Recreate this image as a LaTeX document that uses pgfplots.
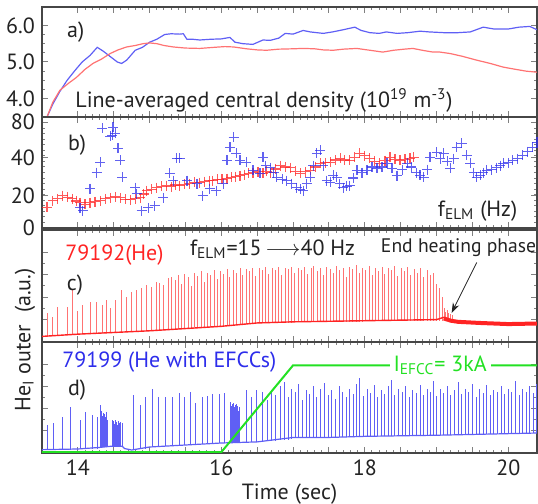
\documentclass[border=0pt]{standalone}
\usepackage{fontspec}
\setmainfont{PT Sans}
\usepackage{pgfplots}
\pgfplotsset{compat=1.18}
\usepackage{pgfplotstable}
\usetikzlibrary{arrows.meta}
\definecolor{cblue}{RGB}{45,45,235}
\definecolor{cbluel}{RGB}{95,95,245}
\definecolor{cred}{RGB}{255,35,35}
\definecolor{credl}{RGB}{255,115,115}
\definecolor{cgreen}{RGB}{35,225,35}
\definecolor{cax}{RGB}{70,70,70}
\definecolor{ctxt}{RGB}{35,35,35}
\newcommand{\fs}{\fontsize{11}{12}\selectfont}

% panel a: line-averaged density
\pgfplotstableread{
t v
13.57 3.50
13.65 3.85
13.75 4.20
13.85 4.50
13.96 4.77
14.06 5.00
14.17 5.18
14.27 5.40
14.35 5.30
14.45 5.15
14.55 5.00
14.61 4.96
14.68 5.05
14.80 5.32
14.90 5.40
15.00 5.54
15.10 5.62
15.21 5.75
15.30 5.77
15.42 5.76
15.47 5.77
15.52 5.62
15.60 5.62
15.70 5.60
15.85 5.62
16.00 5.63
16.12 5.67
16.19 5.54
16.30 5.50
16.44 5.48
16.58 5.60
16.68 5.59
16.80 5.65
16.89 5.78
17.00 5.76
17.14 5.86
17.24 5.82
17.42 5.78
17.55 5.82
17.70 5.88
17.86 5.95
17.95 5.86
18.07 5.80
18.20 5.78
18.30 5.82
18.45 5.78
18.60 5.80
18.77 5.84
18.90 5.82
19.10 5.80
19.30 5.80
19.47 5.82
19.65 5.95
19.80 5.90
20.00 5.90
20.15 5.95
20.30 5.97
20.40 5.88
}\densblue
\pgfplotstableread{
t v
13.57 3.50
13.65 3.90
13.75 4.23
13.87 4.42
13.98 4.58
14.10 4.80
14.21 4.96
14.33 5.08
14.45 5.23
14.56 5.33
14.68 5.41
14.80 5.45
14.91 5.50
15.00 5.52
15.10 5.50
15.20 5.45
15.33 5.41
15.50 5.38
15.70 5.37
15.90 5.40
16.05 5.42
16.17 5.41
16.35 5.36
16.50 5.33
16.63 5.32
16.80 5.35
17.00 5.36
17.14 5.37
17.30 5.36
17.42 5.33
17.56 5.32
17.70 5.35
17.89 5.37
18.07 5.32
18.25 5.27
18.40 5.32
18.55 5.35
18.67 5.37
18.80 5.32
18.95 5.27
19.05 5.27
19.19 5.23
19.35 5.16
19.56 5.05
19.75 4.96
19.93 4.86
20.10 4.80
20.25 4.75
20.41 4.72
}\densred

% panel b: ELM frequency
\pgfplotstableread{
t v
13.57 14.8
13.65 19.6
13.72 21.0
13.79 23.3
13.86 22.0
13.92 21.0
13.98 19.5
14.03 18.2
14.10 17.0
14.17 18.2
14.24 19.0
14.31 19.6
14.38 21.0
14.45 21.8
14.52 22.5
14.59 21.8
14.66 20.8
14.73 20.4
14.80 21.0
14.87 21.8
14.92 24.5
14.96 26.9
15.03 28.0
15.10 29.1
15.17 30.0
15.24 30.5
15.30 29.8
15.36 31.0
15.42 30.5
15.49 31.5
15.56 32.0
15.63 33.0
15.70 32.7
15.77 33.5
15.83 34.0
15.88 34.2
15.95 35.0
16.01 35.2
16.08 35.6
16.14 36.5
16.20 37.0
16.26 37.8
16.32 38.5
16.38 39.5
16.44 40.0
16.51 40.5
16.58 39.3
16.63 41.0
16.68 40.0
16.75 42.5
16.82 45.0
16.89 44.0
16.96 43.6
17.03 41.0
17.10 39.3
17.17 40.5
17.24 41.5
17.31 44.0
17.38 46.5
17.45 47.0
17.52 47.3
17.59 49.0
17.66 50.2
17.72 49.0
17.79 48.7
17.86 51.0
17.93 53.8
18.00 52.0
18.07 50.2
18.14 48.0
18.21 46.5
18.28 48.5
18.35 50.9
18.42 49.5
18.49 48.7
18.56 49.5
18.63 50.2
18.68 50.9
}\felmred
\pgfplotstableread{
t v
14.03 14.5
14.07 12.4
14.17 28.4
14.26 40.0
14.31 47.3
14.34 72.0
14.45 66.0
14.48 66.9
14.49 72.7
14.52 68.4
14.56 57.4
14.59 48.7
14.62 36.4
14.80 29.1
14.82 24.7
14.89 12.4
14.98 14.5
15.07 16.0
15.19 21.8
15.28 39.3
15.33 34.2
15.38 50.2
15.42 50.2
15.52 34.2
15.66 32.0
15.74 23.3
15.84 28.4
15.93 26.9
16.03 32.0
16.08 48.7
16.12 58.2
16.17 65.4
16.21 53.8
16.26 48.7
16.35 47.3
16.44 41.5
16.54 39.3
16.58 50.9
16.62 45.0
16.68 43.6
16.73 40.0
16.77 36.4
16.85 35.0
16.91 34.2
16.98 32.0
17.05 29.1
17.10 28.0
17.14 26.9
17.19 32.0
17.24 36.4
17.28 45.0
17.33 53.8
17.38 56.0
17.42 45.0
17.47 34.2
17.52 33.0
17.56 38.0
17.61 36.4
17.65 32.0
17.70 29.1
17.75 30.0
17.79 30.5
17.84 36.0
17.89 41.5
17.96 40.0
18.03 41.5
18.10 44.0
18.17 42.9
18.24 44.0
18.31 46.5
18.38 43.0
18.45 37.8
18.52 42.0
18.59 46.5
18.65 44.0
18.72 40.0
18.77 38.0
18.82 36.4
18.87 42.0
18.91 50.9
19.00 54.5
19.05 50.0
19.10 53.8
19.15 48.0
19.19 42.9
19.24 50.0
19.28 58.2
19.35 61.0
19.42 52.3
19.47 46.5
19.52 40.0
19.56 36.4
19.61 38.0
19.65 40.0
19.70 41.5
19.77 42.0
19.84 43.6
19.89 45.0
19.93 46.5
20.00 47.0
20.06 48.7
20.13 50.0
20.20 52.3
20.27 55.0
20.34 58.2
20.40 61.8
}\felmblue

% panel c: He I outer, shot 79192 (spikes: time, base, peak)
\pgfplotstableread{
t b p
13.57 .05 .26
13.64 .05 .22
13.72 .06 .31
13.85 .06 .31
13.93 .07 .46
14.00 .07 .28
14.06 .07 .33
14.17 .075 .36
14.26 .08 .36
14.34 .08 .33
14.40 .08 .375
14.46 .085 .30
14.52 .085 .375
14.61 .09 .46
14.68 .09 .40
14.75 .09 .45
14.82 .095 .46
14.89 .095 .48
14.96 .10 .51
15.03 .10 .49
15.10 .10 .54
15.14 .10 .53
15.19 .11 .51
15.26 .11 .57
15.31 .11 .58
15.36 .12 .55
15.40 .12 .60
15.45 .12 .52
15.49 .12 .61
15.54 .12 .58
15.58 .12 .50
15.63 .13 .62
15.67 .13 .59
15.72 .13 .63
15.76 .13 .54
15.81 .13 .62
15.85 .13 .60
15.90 .14 .64
15.94 .14 .56
15.99 .14 .63
16.03 .14 .61
16.08 .14 .65
16.12 .14 .58
16.17 .14 .64
16.21 .16 .62
16.26 .16 .66
16.30 .16 .60
16.35 .16 .65
16.39 .16 .63
16.44 .16 .66
16.48 .16 .59
16.53 .17 .66
16.57 .17 .64
16.62 .17 .67
16.66 .17 .61
16.71 .17 .66
16.75 .17 .64
16.80 .17 .67
16.84 .17 .60
16.89 .17 .66
16.93 .17 .65
16.98 .17 .67
17.02 .18 .62
17.07 .18 .66
17.11 .18 .64
17.16 .18 .67
17.20 .18 .61
17.25 .18 .66
17.29 .18 .68
17.34 .18 .63
17.38 .18 .66
17.43 .18 .60
17.47 .18 .67
17.52 .18 .65
17.56 .18 .62
17.61 .18 .68
17.65 .18 .64
17.70 .18 .66
17.74 .18 .58
17.79 .18 .67
17.83 .18 .65
17.88 .18 .69
17.92 .18 .62
17.97 .18 .66
18.01 .19 .64
18.06 .19 .68
18.10 .19 .60
18.15 .19 .66
18.19 .19 .63
18.24 .19 .67
18.28 .19 .61
18.33 .19 .66
18.37 .19 .64
18.42 .19 .68
18.46 .19 .59
18.51 .19 .66
18.55 .19 .63
18.60 .19 .67
18.64 .19 .60
18.69 .19 .65
18.73 .19 .62
18.78 .19 .66
18.82 .19 .58
18.87 .19 .64
18.91 .19 .60
18.96 .19 .62
19.00 .19 .52
19.04 .19 .48
19.08 .19 .40
19.11 .20 .30
19.13 .20 .27
19.15 .20 .29
19.17 .20 .26
19.19 .19 .25
19.22 .19 .24
}\spikesc
\pgfplotstableread{
t v
13.50 0.05
14.00 0.07
14.50 0.085
15.00 0.10
15.50 0.12
16.00 0.14
16.50 0.17
17.00 0.18
18.00 0.19
19.00 0.20
19.10 0.22
19.15 0.20
19.30 0.18
19.60 0.17
20.00 0.16
20.40 0.17
}\basec
\pgfplotstableread{
t v
19.10 0.21
19.20 0.19
19.30 0.18
19.60 0.17
20.00 0.16
20.40 0.165
}\basecthick

% panel d: He I outer, shot 79199 (spikes: time, base, peak)
\pgfplotstableread{
t b p
13.57 .03 .25
13.66 .03 .27
13.78 .03 .32
13.90 .03 .41
14.03 .035 .30
14.10 .035 .37
14.20 .04 .34
14.27 .04 .32
14.32 .05 .43
14.335 .05 .38
14.345 .05 .33
14.355 .05 .36
14.365 .05 .30
14.375 .05 .35
14.385 .05 .32
14.395 .05 .37
14.405 .05 .31
14.415 .05 .30
14.48 .06 .30
14.49 .06 .27
14.50 .06 .29
14.515 .06 .26
14.525 .06 .30
14.54 .06 .28
14.55 .06 .25
14.565 .06 .29
14.575 .06 .27
14.59 .06 .28
14.60 .06 .24
14.615 .06 .27
14.78 .03 .52
14.87 .04 .43
14.94 .04 .50
15.04 .05 .58
15.13 .055 .50
15.22 .06 .50
15.32 .06 .50
15.41 .065 .54
15.48 .07 .50
15.57 .075 .55
15.64 .08 .45
15.73 .08 .50
15.81 .085 .51
15.88 .085 .53
15.97 .09 .53
16.04 .09 .54
16.13 .09 .46
16.14 .09 .42
16.15 .09 .44
16.16 .09 .40
16.17 .09 .45
16.18 .09 .41
16.19 .09 .43
16.20 .09 .39
16.21 .09 .44
16.22 .09 .40
16.23 .09 .42
16.24 .09 .38
16.25 .09 .41
16.35 .10 .57
16.42 .10 .50
16.49 .10 .57
16.58 .11 .55
16.64 .11 .48
16.70 .11 .56
16.76 .11 .52
16.82 .12 .60
16.88 .12 .64
16.93 .12 .50
16.98 .13 .58
17.03 .14 .55
17.08 .14 .62
17.13 .14 .48
17.18 .14 .57
17.23 .14 .53
17.28 .14 .60
17.33 .14 .50
17.38 .14 .58
17.44 .14 .63
17.49 .14 .52
17.54 .14 .57
17.59 .14 .49
17.64 .14 .60
17.69 .14 .55
17.74 .14 .50
17.79 .14 .58
17.84 .14 .53
17.88 .14 .62
17.93 .14 .68
17.98 .14 .51
18.03 .15 .58
18.08 .15 .54
18.13 .15 .61
18.18 .15 .50
18.23 .15 .57
18.28 .15 .53
18.33 .15 .60
18.37 .15 .66
18.42 .15 .52
18.47 .15 .58
18.52 .15 .55
18.57 .15 .60
18.62 .15 .50
18.67 .15 .57
18.72 .15 .54
18.77 .15 .61
18.82 .15 .52
18.87 .15 .58
18.91 .15 .55
18.95 .16 .65
19.00 .16 .51
19.05 .16 .58
19.10 .16 .54
19.15 .16 .60
19.20 .16 .52
19.25 .16 .57
19.30 .16 .64
19.35 .17 .53
19.40 .17 .58
19.45 .17 .55
19.50 .17 .62
19.55 .17 .50
19.60 .17 .58
19.65 .17 .54
19.70 .17 .61
19.75 .17 .52
19.80 .17 .57
19.85 .17 .55
19.90 .18 .60
19.95 .18 .53
20.00 .18 .58
20.05 .18 .55
20.10 .18 .65
20.15 .18 .52
20.20 .18 .58
20.25 .18 .55
20.30 .18 .60
20.35 .18 .54
20.39 .18 .62
}\spikesd
\pgfplotstableread{
t v
13.50 0.03
14.00 0.036
14.30 0.05
14.45 0.06
14.62 0.06
14.65 0.04
14.75 0.027
15.00 0.054
15.50 0.072
16.00 0.09
16.50 0.10
17.00 0.14
17.50 0.14
18.00 0.15
19.00 0.16
20.40 0.18
}\based
\pgfplotstableread{
t v
13.50 0.008
16.00 0.008
17.00 0.79
20.40 0.79
}\iefcc

\pgfplotsset{
  panel/.style={
    scale only axis, width=247.5pt, xmin=13.5, xmax=20.4, anchor=south west,
    axis line style={cax, line width=0.6pt},
    tick style={gray, line width=0.5pt},
    major tick length=3pt, minor tick length=1.6pt,
    xtick={14,14.5,15,15.5,16,16.5,17,17.5,18,18.5,19,19.5,20},
    xticklabels={}, minor x tick num=4,
    tick label style={font=\fs, text=ctxt},
    /pgf/number format/assume math mode=true,
  },
}

\begin{document}
\begin{tikzpicture}
\useasboundingbox (0,0) rectangle (269pt,252pt);

% ---------- a ----------
\begin{axis}[panel, at={(21pt,193.5pt)}, height=55pt,
  ymin=3.5, ymax=6.5, ytick={4,5,6}, yticklabels={4.0,5.0,6.0},
  minor y tick num=3]
\addplot[cbluel, line width=0.6pt] table[x=t,y=v] {\densblue};
\addplot[credl, line width=0.6pt] table[x=t,y=v] {\densred};
\node[anchor=center, font=\fs, text=ctxt] at (axis cs:13.97,5.81) {a)};
\node[anchor=west, font=\fs, text=ctxt, inner sep=0pt] at (axis cs:13.96,3.96)
  {Line-averaged central density (10\textsuperscript{19} m\textsuperscript{-3})};
\end{axis}

% ---------- b ----------
\begin{axis}[panel, at={(21pt,138pt)}, height=55.5pt,
  ymin=0, ymax=80, ytick={0,23.3,50.9,76.4}, yticklabels={0,20,40,80},
  minor ytick={4,8,...,76}]
\addplot[only marks, mark=+, mark size=2.5pt, cred, opacity=0.75, line width=0.6pt]
  table[x=t,y=v] {\felmred};
\addplot[only marks, mark=+, mark size=2.5pt, cblue, opacity=0.75, line width=0.6pt]
  table[x=t,y=v] {\felmblue};
\node[font=\fs, text=ctxt] at (axis cs:13.99,59.6) {b)};
\node[anchor=east, font=\fs, text=ctxt, inner sep=0pt] at (axis cs:20.13,12.4)
  {f\textsubscript{ELM} (Hz)};
\end{axis}

% ---------- c ----------
\begin{axis}[panel, at={(21pt,81pt)}, height=56pt,
  ymin=0, ymax=1, ytick={0.2,0.4,0.6,0.8}, yticklabels={}, minor y tick num=1]
\addplot[draw=none, mark=none, forget plot,
  error bars/.cd, y dir=plus, y explicit, error mark=none,
  error bar style={draw=credl, line width=0.45pt}]
  table[x=t, y=b, y error expr=\thisrow{p}-\thisrow{b}] {\spikesc};
\addplot[cred, line width=0.7pt] table[x=t,y=v] {\basec};
\addplot[cred, line width=2pt] table[x=t,y=v] {\basecthick};
\node[anchor=west, font=\fs, text=cred, inner sep=0pt] at (axis cs:13.82,0.78) {79192(He)};
\node[anchor=west, font=\fs, text=ctxt, inner sep=0pt] at (axis cs:15.56,0.83)
  {f\textsubscript{ELM}=15\,\ensuremath{\longrightarrow}40 Hz};
\node[font=\fs, text=ctxt] at (axis cs:13.96,0.51) {c)};
\node[anchor=west, font=\fontsize{9.8}{11}\selectfont, text=ctxt, inner sep=0pt]
  at (axis cs:18.22,0.84) {End heating phase};
\draw[-{Stealth[length=5pt,width=3.5pt]}, ctxt, line width=0.4pt]
  (axis cs:19.56,0.71) -- (axis cs:19.21,0.26);
\end{axis}

% ---------- d ----------
\begin{axis}[panel, at={(21pt,25.5pt)}, height=55.5pt,
  ymin=0, ymax=1, ytick={0.2,0.4,0.6,0.8}, yticklabels={}, minor y tick num=1,
  xticklabels={14,,,,16,,,,18,,,,20},
  xlabel={Time (sec)}, xlabel style={font=\fs, text=ctxt, yshift=3pt}]
\addplot[draw=none, mark=none, forget plot,
  error bars/.cd, y dir=plus, y explicit, error mark=none,
  error bar style={draw=cbluel, line width=0.45pt}]
  table[x=t, y=b, y error expr=\thisrow{p}-\thisrow{b}] {\spikesd};
\addplot[cbluel, line width=0.6pt] table[x=t,y=v] {\based};
\addplot[cgreen, line width=1pt] table[x=t,y=v] {\iefcc};
\node[anchor=west, font=\fs, text=cblue, fill=white, inner sep=1pt] at (axis cs:13.75,0.82)
  {79199 (He with EFCCs)};
\node[font=\fs, text=ctxt] at (axis cs:13.99,0.57) {d)};
\node[font=\fs, text=cgreen, fill=white, inner xsep=2pt, inner ysep=0pt] at (axis cs:19.05,0.79)
  {I\textsubscript{EFCC}= 3kA};
\end{axis}

\node[rotate=90, font=\fs, text=ctxt] at (12.5pt,82pt) {He\textsubscript{I} outer~~(a.u.)};
\end{tikzpicture}
\end{document}
